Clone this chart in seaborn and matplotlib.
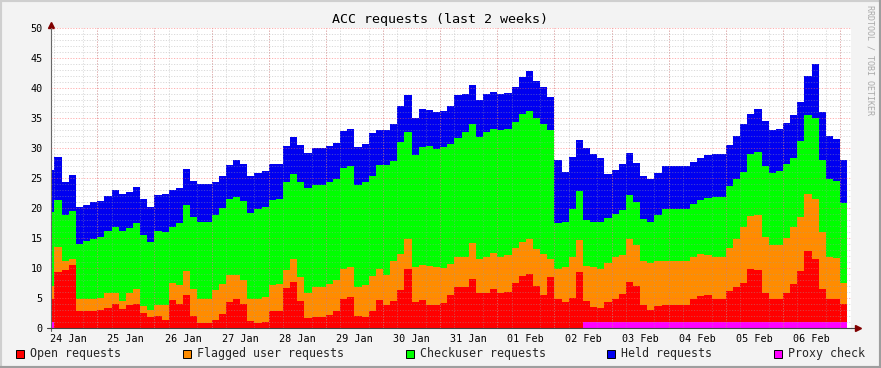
import numpy as np
import pandas as pd
import matplotlib.pyplot as plt
from matplotlib.patches import Rectangle
import seaborn as sns

# 3-hour bins, hours counted from 24 Jan 00:00
bin_start_h = list(range(3, 339, 3))

# stack levels (top edge of each coloured band)
open_level = [4.9, 9.3, 9.6, 10.5, 2.9, 2.9, 2.9, 3.0, 3.4, 4.0, 3.2, 3.8, 4.0, 2.5, 1.8, 2.0,
              1.4, 4.7, 4.0, 5.5, 2.0, 0.9, 0.9, 1.3, 2.4, 4.3, 4.9, 4.0, 1.1, 0.9, 1.0, 2.8,
              2.9, 6.6, 7.7, 4.5, 1.7, 1.9, 1.9, 2.2, 2.8, 4.8, 5.2, 2.0, 1.8, 2.8, 4.7, 3.8,
              4.5, 6.3, 9.8, 4.4, 4.7, 3.8, 3.8, 4.2, 5.5, 6.8, 6.9, 8.2, 5.8, 5.9, 6.5, 5.8,
              6.0, 7.5, 8.6, 9.0, 7.0, 5.5, 8.5, 4.9, 4.4, 5.0, 9.3, 4.5, 3.5, 3.3, 4.3, 4.9,
              5.7, 7.7, 7.0, 3.8, 3.0, 3.7, 3.8, 3.8, 3.8, 3.8, 4.9, 5.3, 5.5, 4.8, 4.8, 6.2,
              6.9, 7.5, 9.8, 9.7, 5.8, 4.8, 4.8, 5.8, 7.4, 9.5, 12.8, 11.5, 6.5, 4.8, 4.8, 4.0]
flagged_level = [7.0, 13.5, 11.2, 11.5, 4.8, 4.8, 4.8, 5.0, 5.8, 5.9, 4.5, 5.8, 6.5, 3.6, 3.0, 3.8,
                 3.8, 7.5, 7.2, 9.5, 6.5, 4.8, 4.8, 6.3, 7.3, 8.8, 8.9, 8.0, 4.9, 4.9, 5.1, 7.2,
                 7.4, 9.6, 11.5, 8.5, 5.8, 6.9, 6.9, 7.3, 8.0, 9.8, 10.1, 6.9, 7.1, 8.6, 9.8, 8.8,
                 11.2, 12.3, 14.8, 10.2, 10.5, 10.3, 10.1, 10.0, 10.6, 11.8, 11.9, 14.2, 11.5, 11.9, 12.5, 11.9,
                 12.1, 13.4, 14.3, 14.9, 13.1, 12.3, 11.5, 9.9, 10.2, 11.9, 14.6, 10.3, 10.1, 9.9, 10.8, 11.8,
                 12.2, 14.9, 13.9, 11.1, 10.9, 11.2, 11.2, 11.2, 11.2, 11.2, 11.8, 12.4, 12.2, 11.8, 11.8, 13.3,
                 14.8, 16.8, 18.6, 18.9, 15.2, 13.8, 13.9, 15.0, 16.8, 18.5, 22.3, 21.5, 16.0, 11.8, 11.6, 7.5]
checkuser_level = [19.4, 21.3, 18.8, 19.5, 14.0, 14.5, 14.9, 15.1, 16.2, 16.9, 16.1, 16.6, 17.5, 15.5, 14.3, 16.2,
                   16.0, 16.9, 17.5, 20.5, 18.5, 17.7, 17.7, 18.9, 20.0, 21.5, 21.9, 21.2, 19.2, 19.9, 20.1, 21.3,
                   21.5, 24.4, 25.6, 24.3, 23.3, 23.9, 23.9, 24.3, 24.9, 26.7, 27.0, 23.9, 24.3, 25.3, 27.2, 27.2,
                   27.9, 31.0, 32.7, 28.9, 30.2, 30.3, 29.9, 30.1, 30.6, 31.7, 32.6, 34.0, 31.9, 32.6, 33.1, 33.0,
                   33.1, 34.3, 35.7, 36.1, 35.0, 34.0, 33.0, 17.5, 17.7, 19.9, 22.8, 18.0, 17.7, 17.6, 18.3, 19.0,
                   19.7, 22.2, 21.0, 18.2, 17.7, 18.9, 19.9, 19.9, 19.9, 19.9, 20.7, 21.3, 21.6, 21.9, 21.9, 23.6,
                   24.8, 26.0, 29.0, 29.4, 27.0, 25.9, 26.2, 27.4, 28.3, 31.1, 35.5, 35.0, 28.0, 24.8, 24.5, 20.9]
held_level = [26.3, 28.5, 24.3, 25.5, 20.2, 20.5, 21.0, 21.1, 22.0, 23.0, 22.3, 22.7, 23.5, 21.5, 20.2, 22.2,
              22.4, 23.0, 23.3, 26.5, 24.5, 24.0, 24.0, 24.4, 25.4, 27.1, 28.0, 27.4, 25.3, 25.9, 26.2, 27.3,
              27.3, 30.3, 31.8, 30.5, 29.2, 30.0, 30.0, 30.3, 30.9, 32.8, 33.2, 30.2, 30.6, 32.5, 33.0, 33.0,
              34.0, 37.0, 38.8, 35.0, 36.5, 36.4, 36.0, 36.1, 37.0, 38.8, 39.0, 40.5, 38.0, 39.0, 39.3, 39.0,
              39.1, 40.2, 41.9, 42.9, 41.2, 40.1, 38.5, 28.0, 26.0, 28.5, 31.4, 30.0, 29.0, 28.4, 25.7, 26.4,
              27.3, 29.1, 27.5, 25.3, 24.9, 25.9, 27.0, 27.0, 27.0, 27.0, 27.7, 28.4, 28.8, 29.0, 29.0, 30.5,
              32.0, 34.0, 35.7, 36.5, 34.5, 33.0, 33.2, 34.2, 35.5, 37.7, 42.0, 44.0, 36.0, 32.0, 31.5, 28.0]
proxy_check = [1, 0, 0, 0, 0, 0, 0, 0, 0, 0, 0, 0, 0, 0, 0, 0,
               0, 0, 0, 0, 0, 0, 0, 0, 0, 0, 0, 0, 0, 0, 0, 0,
               0, 0, 0, 0, 0, 0, 0, 0, 0, 0, 0, 0, 0, 0, 0, 0,
               0, 0, 0, 0, 0, 0, 0, 0, 0, 0, 0, 0, 0, 0, 0, 0,
               0, 0, 0, 0, 0, 0, 0, 0, 0, 0, 0, 1, 1, 1, 1, 1,
               1, 1, 1, 1, 1, 1, 1, 1, 1, 1, 1, 1, 1, 1, 1, 1,
               1, 1, 1, 1, 1, 1, 1, 1, 1, 1, 1, 1, 1, 1, 1, 1]

day_labels = ['24 Jan', '25 Jan', '26 Jan', '27 Jan', '28 Jan', '29 Jan', '30 Jan',
              '31 Jan', '01 Feb', '02 Feb', '03 Feb', '04 Feb', '05 Feb', '06 Feb']

series_names = ['Open requests', 'Flagged user requests', 'Checkuser requests',
                'Held requests', 'Proxy check']
series_colors = ['#FF0000', '#FF8C00', '#00FF00', '#0000F0', '#FF00FF']

# per-series counts from the stack levels (proxy check sits at the bottom)
proxy = np.array(proxy_check, dtype=float)
lv_open = np.array(open_level)
lv_flag = np.array(flagged_level)
lv_cu = np.array(checkuser_level)
lv_held = np.array(held_level)
counts = {
    'Proxy check': proxy,
    'Open requests': lv_open - proxy,
    'Flagged user requests': lv_flag - lv_open,
    'Checkuser requests': lv_cu - lv_flag,
    'Held requests': lv_held - lv_cu,
}

starts = np.array(bin_start_h, dtype=float)
edges = np.append(starts, starts[-1] + 3).tolist()
centers = starts + 1.5
df = pd.concat([pd.DataFrame({'hour': centers, 'value': v, 'series': k})
                for k, v in counts.items()], ignore_index=True)

sns.set_style('white')
plt.rcParams['font.family'] = ['DejaVu Sans Mono']

fig = plt.figure(figsize=(8.81, 3.68), dpi=100, facecolor='#F3F3F3')
ax = fig.add_axes([51 / 881, 40 / 368, 800 / 881, 300 / 368])
ax.set_facecolor('white')

# seaborn stacks the last hue level at the bottom
stack_order = ['Held requests', 'Checkuser requests', 'Flagged user requests',
               'Open requests', 'Proxy check']
pal = dict(zip(series_names, series_colors))
sns.histplot(data=df, x='hour', weights='value', hue='series', hue_order=stack_order,
             multiple='stack', bins=edges, element='step', fill=True, alpha=1,
             palette=pal, linewidth=0, legend=False, ax=ax)

x0 = 4.57
ax.set_xlim(x0, x0 + 336)
ax.set_ylim(0, 50)
ax.set_xlabel('')
ax.set_ylabel('')

# ticks & grid
noon = np.arange(12, 336, 24)
ax.set_xticks(noon, labels=day_labels)
ax.set_xticks(np.arange(6, 341, 6), minor=True)
ax.set_yticks(np.arange(0, 51, 5))
ax.set_yticks(np.arange(0, 51, 1), minor=True)
ax.tick_params(axis='both', which='major', labelsize=7.3, colors='#000000')
ax.tick_params(axis='x', which='major', length=0, pad=4)
ax.tick_params(axis='y', which='major', length=3, width=0.7, color='#888888', pad=3)
ax.tick_params(axis='both', which='minor', length=2, width=0.7, color='#AAAAAA')
ax.set_axisbelow(False)
ax.grid(which='minor', axis='both', color='#A0A0A0', alpha=0.4,
        linestyle=(0, (1.2, 1.6)), linewidth=0.7)
ax.grid(which='major', axis='y', color='#FF6060', alpha=0.5,
        linestyle=(0, (1.2, 1.6)), linewidth=0.7)
for m in np.arange(24, 341, 24):
    ax.axvline(m, color='#FF6060', alpha=0.5, linestyle=(0, (1.2, 1.6)), linewidth=0.7)

for s in ['top', 'right']:
    ax.spines[s].set_visible(False)
ax.spines['left'].set_color('#666666')
ax.spines['bottom'].set_color('#444444')
ax.spines['left'].set_linewidth(0.8)
ax.spines['bottom'].set_linewidth(0.8)

# axis extensions and arrows
ax.plot([-0.005, 0.0], [0, 0], color='#444444', lw=0.8, transform=ax.transAxes, clip_on=False)
ax.plot([0, 0], [-0.01, 0.0], color='#666666', lw=0.8, transform=ax.transAxes, clip_on=False)
ax.plot([1.0, 1.006], [0, 0], color='#444444', lw=0.8, transform=ax.transAxes, clip_on=False)
ax.plot([1.009], [0], marker='>', color='#800000', ms=4.5, transform=ax.transAxes, clip_on=False)
ax.plot([0], [1.01], marker='^', color='#800000', ms=4.5, transform=ax.transAxes, clip_on=False)

fig.text(440 / 881, 1 - 19 / 368, 'ACC requests (last 2 weeks)', ha='center', va='center',
         fontsize=9.6, color='#000000')
fig.text(870 / 881, 1 - 60 / 368, 'RRDTOOL / TOBI OETIKER', rotation=270, ha='center',
         va='center', fontsize=6, color='#AAAAAA')

# legend row
legend_x = [16, 183, 406, 607, 774]
for name, col, lx in zip(series_names, series_colors, legend_x):
    fig.add_artist(Rectangle((lx / 881, 10 / 368), 8 / 881, 8 / 368, transform=fig.transFigure,
                             facecolor=col, edgecolor='#000000', lw=0.7))
    fig.text((lx + 14) / 881, 1 - 354 / 368, name, ha='left', va='center', fontsize=8.4)

# outer frame
fig.add_artist(plt.Line2D([0, 1], [1, 1], transform=fig.transFigure, color='#CFCFCF', lw=3))
fig.add_artist(plt.Line2D([0, 0], [0, 1], transform=fig.transFigure, color='#CFCFCF', lw=3))
fig.add_artist(plt.Line2D([0, 1], [0, 0], transform=fig.transFigure, color='#9E9E9E', lw=3))
fig.add_artist(plt.Line2D([1, 1], [0, 1], transform=fig.transFigure, color='#9E9E9E', lw=3))

fig.savefig('out.png', dpi=100, facecolor=fig.get_facecolor())
